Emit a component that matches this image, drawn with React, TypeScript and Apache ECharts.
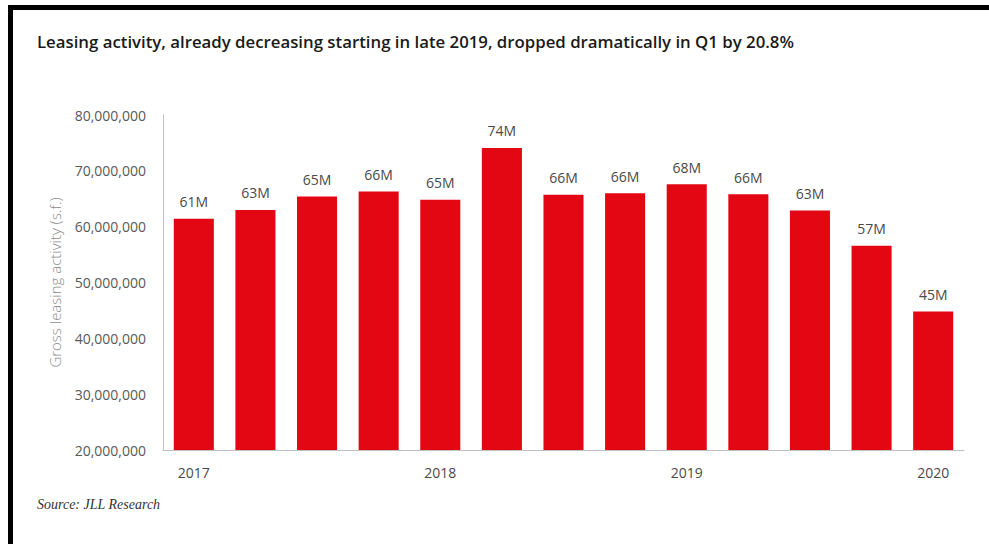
import React, { useEffect, useRef } from "react";
import * as echarts from "echarts";

const quarters = [
  "Q1 2017", "Q2 2017", "Q3 2017", "Q4 2017",
  "Q1 2018", "Q2 2018", "Q3 2018", "Q4 2018",
  "Q1 2019", "Q2 2019", "Q3 2019", "Q4 2019",
  "Q1 2020",
];
const leasing = [
  61400000, 63000000, 65400000, 66300000,
  64800000, 74100000, 65700000, 66000000,
  67600000, 65800000, 62900000, 56600000,
  44800000,
];
const barLabels = ["61M", "63M", "65M", "66M", "65M", "74M", "66M", "66M", "68M", "66M", "63M", "57M", "45M"];
const yearTicks = ["2017", "2018", "2019", "2020"];

const TITLE = "Leasing activity, already decreasing starting in late 2019, dropped dramatically in Q1 by 20.8%";
const SOURCE = "Source: JLL Research";

export default function App() {
  const ref = useRef<HTMLDivElement>(null);
  useEffect(() => {
    document.body.style.margin = "0";
    const chart = echarts.init(ref.current!, null, { renderer: "svg" });
    chart.setOption({
      animation: false,
      backgroundColor: "#ffffff",
      textStyle: { fontFamily: "Open Sans" },
      graphic: [
        { type: "rect", left: 8, top: 5, shape: { width: 981, height: 5 }, style: { fill: "#000" } },
        { type: "rect", left: 8, top: 5, shape: { width: 5, height: 539 }, style: { fill: "#000" } },
        {
          type: "text", left: 37, top: 33,
          style: { text: TITLE, font: "600 16.8px 'Open Sans'", fill: "#1a1a1a" },
        },
        {
          type: "text", left: 37, top: 497,
          style: { text: SOURCE, font: "italic 14px 'Liberation Serif'", fill: "#333" },
        },
      ],
      grid: { left: 163, right: 25, top: 115, bottom: 94 },
      xAxis: {
        type: "category",
        data: quarters,
        axisLine: { show: true, lineStyle: { color: "#bfbfbf", width: 1 } },
        axisTick: { show: false },
        axisLabel: {
          interval: 0,
          margin: 15,
          color: "#4a4a4a",
          fontSize: 14,
          formatter: (v: string) => {
            const y = v.split(" ")[1];
            return v.startsWith("Q1") && yearTicks.includes(y) ? y : "";
          },
        },
      },
      yAxis: {
        type: "value",
        min: 20000000,
        max: 80000000,
        interval: 10000000,
        name: "Gross leasing activity (s.f.)",
        nameLocation: "middle",
        nameGap: 101,
        nameTextStyle: { color: "#8c8c8c", fontSize: 15, fontWeight: 300 },
        axisLine: { show: true, lineStyle: { color: "#bfbfbf", width: 1 } },
        axisTick: { show: false },
        splitLine: { show: false },
        axisLabel: {
          margin: 17,
          color: "#595959",
          fontSize: 14,
          formatter: (v: number) => v.toLocaleString("en-US"),
        },
      },
      series: [
        {
          type: "bar",
          data: leasing,
          barCategoryGap: "35%",
          itemStyle: { color: "#e30613" },
          label: {
            show: true,
            position: "top",
            distance: 10,
            color: "#4a4a4a",
            fontSize: 14,
            formatter: (p: any) => barLabels[p.dataIndex],
          },
        },
      ],
    });
    return () => chart.dispose();
  }, []);
  return <div ref={ref} style={{ position: "absolute", left: 0, top: 0, width: 989, height: 544 }} />;
}
